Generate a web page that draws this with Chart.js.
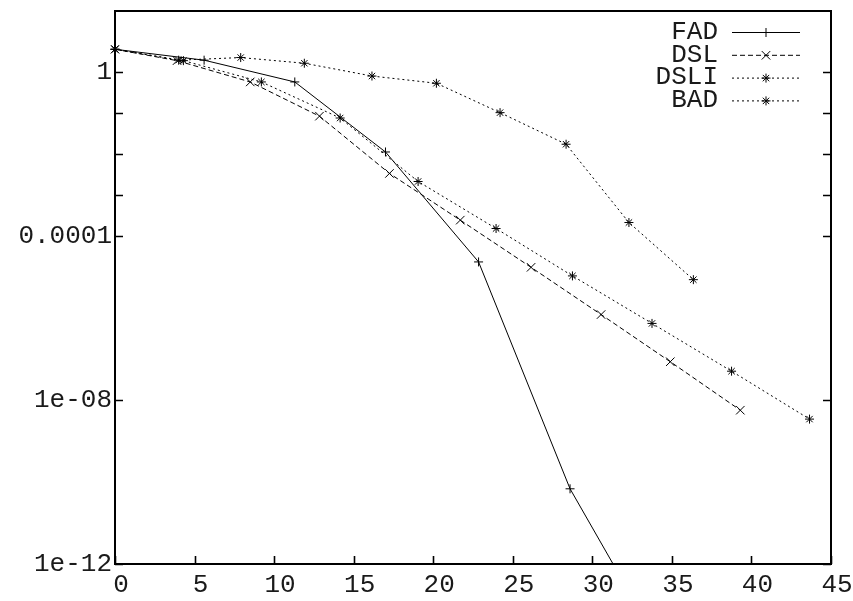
<!DOCTYPE html>
<html>
<head>
<meta charset="utf-8">
<script src="https://cdn.jsdelivr.net/npm/chart.js@4"></script>
<style>
  html, body { margin:0; padding:0; background:#fff; }
  #wrap { width:853px; height:601px; position:relative; }
</style>
</head>
<body>
<div id="wrap"><canvas id="chart"></canvas></div>
<script>
// ── Data ─────────────────────────────────────────────────────────
const fadX  = [0, 5.6, 11.3, 17.0, 22.85, 28.6, 34.4];
const fadY  = [3.5, 1.9, 0.56, 0.011, 2.3e-5, 6.8e-11, 8e-15];

const dslX  = [0, 3.9, 8.5, 12.85, 17.25, 21.7, 26.15, 30.55, 34.9, 39.3];
const dslY  = [3.5, 1.85, 0.56, 0.082, 3.3e-3, 2.4e-4, 1.7e-5, 1.2e-6, 8.5e-8, 5.6e-9];

const dsliX = [0, 4.3, 9.2, 14.15, 19.05, 23.95, 28.75, 33.75, 38.75, 43.65];
const dsliY = [3.5, 1.85, 0.56, 0.074, 2.1e-3, 1.5e-4, 1.05e-5, 7.3e-7, 5e-8, 3.4e-9];

const badX  = [0, 4.0, 7.9, 11.9, 16.15, 20.2, 24.2, 28.35, 32.3, 36.35];
const badY  = [3.5, 1.9, 2.2, 1.6, 0.78, 0.52, 0.10, 0.017, 2.1e-4, 8.5e-6];

const seriesNames = ['FAD', 'DSL', 'DSLI', 'BAD'];

// axis ticks
const yTickMarks  = [1, 0.1, 0.01, 0.001, 1e-4, 1e-8, 1e-12];
const yLabelVals  = [1, 1e-4, 1e-8, 1e-12];
const yLabelText  = ['1', '0.0001', '1e-08', '1e-12'];

const FONT = { family: "'Liberation Mono', monospace", size: 26 };
const INK = '#000';
const TEXT = '#1a1a1a';

const pts = (xs, ys) => xs.map((x, i) => ({ x, y: ys[i] }));

// ── gnuplot-ish frame: box + inward ticks ────────────────────────
const framePlugin = {
  id: 'frame',
  afterDraw(chart) {
    const { ctx, chartArea: a, scales: { x, y } } = chart;
    ctx.save();
    ctx.strokeStyle = INK;
    ctx.lineWidth = 1.6;
    ctx.beginPath();
    yTickMarks.forEach(v => {
      const py = Math.round(y.getPixelForValue(v)) + 0.5;
      ctx.moveTo(a.left, py);  ctx.lineTo(a.left + 8, py);
      ctx.moveTo(a.right, py); ctx.lineTo(a.right - 8, py);
    });
    x.ticks.forEach(t => {
      const px = Math.round(x.getPixelForValue(t.value)) + 0.5;
      ctx.moveTo(px, a.bottom); ctx.lineTo(px, a.bottom - 8);
    });
    ctx.stroke();
    ctx.lineWidth = 2;
    ctx.strokeRect(a.left, a.top, a.right - a.left, a.bottom - a.top);
    ctx.restore();
  }
};

// ── key: text then line sample, top right ────────────────────────
const keyPlugin = {
  id: 'key',
  afterDraw(chart) {
    const { ctx, chartArea: a } = chart;
    ctx.save();
    ctx.font = `${FONT.size}px ${FONT.family}`;
    ctx.textAlign = 'right';
    ctx.textBaseline = 'middle';
    chart.data.datasets.forEach((ds, i) => {
      const yy = a.top + 21 + i * 22.8;
      const tx = a.right - 113, l0 = a.right - 99, l1 = a.right - 31;
      ctx.fillStyle = TEXT;
      ctx.fillText(ds.label, tx, yy);
      ctx.strokeStyle = INK;
      ctx.lineWidth = ds.borderWidth;
      ctx.setLineDash(ds.borderDash || []);
      ctx.beginPath();
      ctx.moveTo(l0, yy + 0.5); ctx.lineTo(l1, yy + 0.5);
      ctx.stroke();
      ctx.setLineDash([]);
      Chart.helpers.drawPoint(ctx, {
        pointStyle: ds.pointStyle, radius: ds.pointRadius,
        borderWidth: 1, rotation: 0
      }, (l0 + l1) / 2, yy + 0.5);
    });
    ctx.restore();
  }
};

const base = {
  borderColor: INK, backgroundColor: INK,
  pointBorderColor: INK, pointBackgroundColor: INK,
  borderWidth: 1, pointBorderWidth: 1, showLine: true,
  clip: { left: 10, top: 10, right: 10, bottom: 0 }
};

new Chart(document.getElementById('chart'), {
  type: 'scatter',
  data: {
    datasets: [
      { ...base, label: seriesNames[0], data: pts(fadX, fadY),
        pointStyle: 'cross', pointRadius: 4.5 },
      { ...base, label: seriesNames[1], data: pts(dslX, dslY),
        pointStyle: 'crossRot', pointRadius: 6, borderDash: [5, 3] },
      { ...base, label: seriesNames[2], data: pts(dsliX, dsliY),
        pointStyle: 'star', pointRadius: 4.5, borderDash: [2, 3] },
      { ...base, label: seriesNames[3], data: pts(badX, badY),
        pointStyle: 'star', pointRadius: 4.5, borderDash: [2, 3] }
    ]
  },
  options: {
    responsive: true,
    maintainAspectRatio: false,
    animation: false,
    layout: { padding: { top: 11, right: 22, left: 0, bottom: 0 } },
    plugins: { legend: { display: false }, tooltip: { enabled: false } },
    scales: {
      x: {
        type: 'linear', min: 0, max: 45,
        ticks: { stepSize: 5, color: TEXT, font: FONT, padding: 6,
                 labelOffset: 6, maxRotation: 0 },
        grid: { display: false, drawTicks: false },
        border: { display: false },
        afterFit: s => { s.height = 37; s.paddingLeft = 0; s.paddingRight = 0; }
      },
      y: {
        type: 'logarithmic', min: 1e-12, max: 30,
        afterBuildTicks: s => { s.ticks = yTickMarks.map(v => ({ value: v })); },
        ticks: {
          color: TEXT, font: FONT, padding: 3, autoSkip: false,
          callback: v => {
            const i = yLabelVals.findIndex(l => Math.abs(Math.log10(l) - Math.log10(v)) < 1e-6);
            return i >= 0 ? yLabelText[i] : '';
          }
        },
        grid: { display: false, drawTicks: false },
        border: { display: false },
        afterFit: s => { s.width = 115; s.paddingTop = 0; s.paddingBottom = 0; }
      }
    }
  },
  plugins: [framePlugin, keyPlugin]
});
</script>
</body>
</html>
